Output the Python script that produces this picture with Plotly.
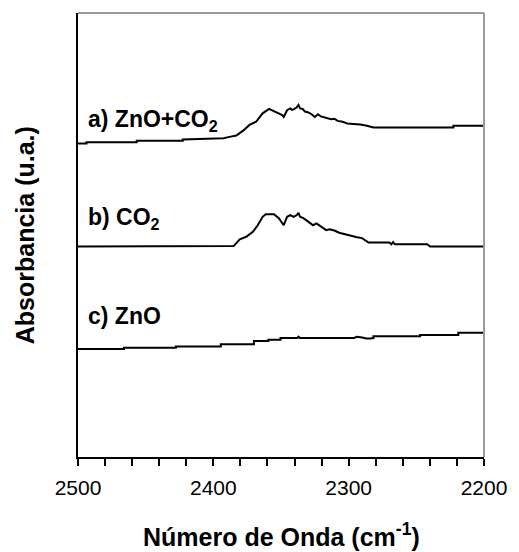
import plotly.graph_objects as go

# Wavenumber (cm^-1) and absorbance (arbitrary units, offset per spectrum)
wn_a = [2500, 2493.7, 2493.7, 2456.6, 2456.6, 2422.6, 2422.6, 2392.5, 2388, 2383,
        2378, 2373.3, 2368.4, 2366, 2363.6, 2358.8, 2356.5, 2354, 2351.5, 2349.1,
        2348, 2345.5, 2343.1, 2341.8, 2340.7, 2338.5, 2337.1, 2335.9, 2334, 2332.3,
        2329.8, 2327.4, 2325, 2322.7, 2320.5, 2317.8, 2315.5, 2313, 2310.5, 2308.2,
        2304.5, 2301, 2296.5, 2291.3, 2286.5, 2281.7, 2222.6, 2222.6, 2200]
abs_a = [70.6, 70.6, 70.9, 70.9, 71.2, 71.2, 71.5, 71.8, 72.1, 72.4,
         73.5, 74.8, 75.5, 76.6, 77.4, 78.4, 78.1, 77.8, 77.4, 77.0,
         76.6, 78.1, 78.5, 78.2, 78.3, 78.7, 79.3, 78.5, 78.4, 77.8,
         77.6, 77.2, 76.6, 77.2, 76.7, 76.5, 76.4, 76.1, 76.2, 75.7,
         75.5, 75.1, 75.0, 74.9, 74.6, 74.2, 74.2, 74.6, 74.6]

wn_b = [2500, 2388.7, 2385, 2380.5, 2375.7, 2370.8, 2367.2, 2363.6, 2361.2, 2355.2,
        2351.6, 2348, 2345.5, 2343.1, 2340.7, 2338.3, 2337.1, 2335.9, 2333.5, 2329.9,
        2326.3, 2323.8, 2320.2, 2316.6, 2314.2, 2310.6, 2307, 2303.4, 2298.5, 2293.8,
        2290.1, 2285.3, 2270, 2268.5, 2267.2, 2265.8, 2242, 2240.7, 2239.8, 2200]
abs_b = [47.4, 47.4, 47.5, 49.0, 49.6, 50.7, 52.2, 54.1, 54.7, 54.7,
         53.8, 52.2, 54.1, 54.5, 54.1, 54.5, 55.0, 54.1, 53.8, 53.0,
         52.2, 52.6, 51.9, 51.1, 51.3, 51.0, 50.5, 50.2, 49.8, 49.5,
         49.3, 48.3, 48.3, 47.9, 48.4, 47.9, 47.9, 47.5, 47.4, 47.4]

wn_c = [2500, 2466, 2466, 2427.7, 2427.7, 2394.5, 2394.5, 2370, 2370, 2359.3,
        2359.3, 2350.4, 2350.4, 2338, 2337, 2336, 2296, 2294, 2290, 2287, 2284,
        2281.7, 2281.7, 2247.2, 2247.2, 2219, 2219, 2200]
abs_c = [24.3, 24.3, 24.6, 24.6, 24.9, 24.9, 25.4, 25.4, 26.1, 26.1,
         26.4, 26.4, 26.8, 26.8, 27.1, 26.8, 26.8, 27.1, 26.9, 26.7, 26.7,
         26.8, 27.2, 27.2, 27.5, 27.5, 28.0, 28.0]

labels = ["a) ZnO+CO<sub>2</sub>", "b) CO<sub>2</sub>", "c) ZnO"]
label_y = [75.9, 53.8, 31.8]

x_ticks = [2500, 2400, 2300, 2200]

FONT = "Liberation Sans, Arial, sans-serif"

fig = go.Figure()
for wn, ab in [(wn_a, abs_a), (wn_b, abs_b), (wn_c, abs_c)]:
    fig.add_trace(go.Scatter(x=wn, y=ab, mode="lines",
                             line=dict(color="black", width=2),
                             showlegend=False, hoverinfo="skip"))

for text, y in zip(labels, label_y):
    fig.add_annotation(x=0.02, xref="paper", y=y, yref="y", text=f"<b>{text}</b>",
                       showarrow=False, xanchor="left", yanchor="middle",
                       font=dict(family=FONT, size=23, color="black"))

# axis titles
fig.add_annotation(x=-0.13, xref="paper", y=0.5, yref="paper",
                   text="<b>Absorbancia (u.a.)</b>", textangle=-90, showarrow=False,
                   xanchor="center", yanchor="middle",
                   font=dict(family=FONT, size=25, color="black"))
fig.add_annotation(x=0.5, xref="paper", y=-0.175, yref="paper",
                   text="<b>Número de Onda (cm<sup>-1</sup>)</b>", showarrow=False,
                   xanchor="center", yanchor="middle",
                   font=dict(family=FONT, size=25, color="black"))

# gray frame on top and right
fig.add_shape(type="line", xref="paper", yref="paper", x0=0, x1=1, y0=1, y1=1,
              line=dict(color="#9a9a9a", width=2))
fig.add_shape(type="line", xref="paper", yref="paper", x0=1, x1=1, y0=0, y1=1,
              line=dict(color="#9a9a9a", width=2))

fig.update_layout(
    width=519, height=552,
    margin=dict(l=78, r=26, t=13, b=95),
    plot_bgcolor="white", paper_bgcolor="white",
    font=dict(family=FONT, color="black"),
    xaxis=dict(range=[2500, 2200], tickvals=x_ticks, ticks="outside", ticklen=7,
               tickwidth=1.5, tickcolor="black", showline=True, linecolor="black",
               linewidth=2, showgrid=False, zeroline=False, ticklabelstandoff=4,
               tickfont=dict(family=FONT, size=21, color="black"),
               minor=dict(dtick=20, ticks="outside", ticklen=7, tickwidth=1.5,
                          tickcolor="black", showgrid=False)),
    yaxis=dict(range=[0, 100], showticklabels=False, ticks="", showline=True,
               linecolor="black", linewidth=2, showgrid=False, zeroline=False),
)

fig.write_html("out.html")
